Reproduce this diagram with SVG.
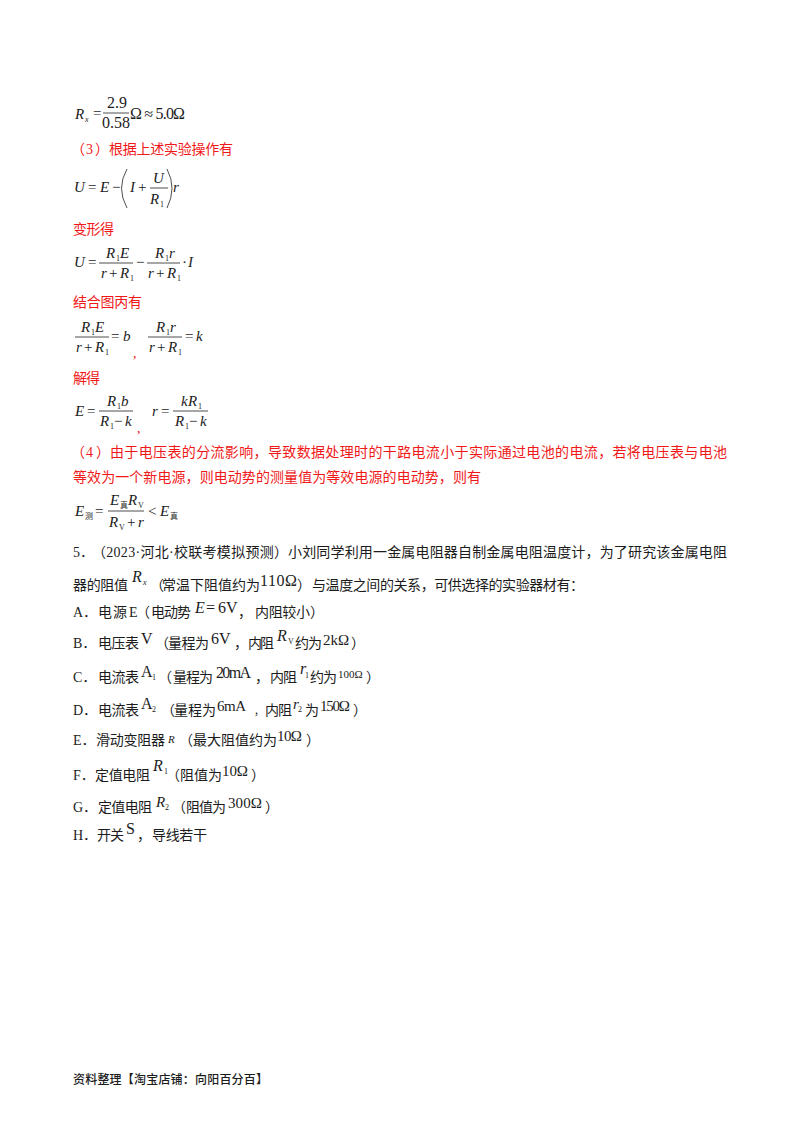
<svg xmlns="http://www.w3.org/2000/svg" width="800" height="1132" viewBox="0 0 800 1132">
<style>
text{font-family:"Liberation Serif","Noto Sans CJK SC",serif;font-size:14px;fill:#1c1c1c}
.r{fill:#f01818}
.i{font-style:italic}
.s{font-size:8px}
.z{font-size:15px}
.y{font-size:15px}
.l{font-size:16px}
.bar{stroke:#222;stroke-width:.8;fill:none}
</style>
<rect width="800" height="1132" fill="#fff"/>
<g id="formula-rx">
<text x="75" y="119" class="i z">R</text><text x="85" y="122" class="i s">x</text><text x="93" y="118" class="z">=</text>
<text x="107" y="108" class="l">2.9</text><path class="bar" d="M103 113H129"/><text x="102" y="128" class="l">0.58</text>
<text x="130" y="119" class="l" textLength="55">Ω ≈ 5.0Ω</text>
</g>
<g id="step3"><text x="71" y="154" class="r">（</text><text x="86" y="154" class="r">3</text><text x="95" y="154" class="r">）</text><text x="109" y="154" class="r" textLength="124">根据上述实验操作有</text></g>
<g id="formula-u1">
<text x="74" y="192" class="i z">U</text><text x="88" y="192" class="z">=</text><text x="100" y="192" class="i z">E</text><text x="112" y="192" class="z">−</text>
<path class="bar" d="M127 169Q116 188 127 208M167 169Q177 188 167 208"/>
<text x="130" y="192" class="i z">I</text><text x="138" y="192" class="z">+</text>
<text x="153" y="183" class="i z">U</text><path class="bar" d="M150 188H168"/><text x="150" y="204" class="i z">R</text><text x="160" y="207" class="s">1</text>
<text x="173" y="192" class="i z">r</text>
</g>
<g id="deform"><text x="73" y="234" class="r" textLength="41">变形得</text></g>
<g id="formula-u2">
<text x="74" y="267" class="i z">U</text><text x="88" y="267" class="z">=</text>
<text x="106" y="258" class="i z">R</text><text x="116" y="261" class="s">1</text><text x="120" y="258" class="i z">E</text><path class="bar" d="M99 263H133"/>
<text x="101" y="278" class="i z">r</text><text x="109" y="278" class="z">+</text><text x="120" y="278" class="i z">R</text><text x="130" y="281" class="s">1</text>
<text x="136" y="267" class="z">−</text>
<text x="155" y="258" class="i z">R</text><text x="165" y="261" class="s">1</text><text x="169" y="258" class="i z">r</text><path class="bar" d="M147 263H180"/>
<text x="148" y="278" class="i z">r</text><text x="156" y="278" class="z">+</text><text x="167" y="278" class="i z">R</text><text x="177" y="281" class="s">1</text>
<text x="182" y="267" class="z">·</text><text x="188" y="267" class="i z">I</text>
</g>
<g id="combine"><text x="73" y="307" class="r" textLength="69">结合图丙有</text></g>
<g id="formula-b-k">
<text x="81" y="332" class="i z">R</text><text x="91" y="335" class="s">1</text><text x="95" y="332" class="i z">E</text><path class="bar" d="M75 337H109"/>
<text x="76" y="352" class="i z">r</text><text x="84" y="352" class="z">+</text><text x="95" y="352" class="i z">R</text><text x="105" y="355" class="s">1</text>
<text x="111" y="341" class="z">=</text><text x="123" y="341" class="i z">b</text>
<text x="133" y="358" class="r">,</text>
<text x="156" y="332" class="i z">R</text><text x="166" y="335" class="s">1</text><text x="170" y="332" class="i z">r</text><path class="bar" d="M148 337H182"/>
<text x="149" y="352" class="i z">r</text><text x="157" y="352" class="z">+</text><text x="168" y="352" class="i z">R</text><text x="178" y="355" class="s">1</text>
<text x="185" y="341" class="z">=</text><text x="196" y="341" class="i z">k</text>
</g>
<g id="solve"><text x="73" y="383" class="r" textLength="27">解得</text></g>
<g id="formula-e-r">
<text x="75" y="416" class="i z">E</text><text x="87" y="416" class="z">=</text>
<text x="107" y="406" class="i z">R</text><text x="117" y="409" class="s">1</text><text x="121" y="406" class="i z">b</text><path class="bar" d="M99 411H133"/>
<text x="100" y="426" class="i z">R</text><text x="110" y="429" class="s">1</text><text x="114" y="426" class="z">−</text><text x="125" y="426" class="i z">k</text>
<text x="137" y="433" class="r">,</text>
<text x="152" y="416" class="i z">r</text><text x="161" y="416" class="z">=</text>
<text x="181" y="406" class="i z">k</text><text x="188" y="406" class="i z">R</text><text x="198" y="409" class="s">1</text><path class="bar" d="M173 411H208"/>
<text x="175" y="426" class="i z">R</text><text x="185" y="429" class="s">1</text><text x="189" y="426" class="z">−</text><text x="200" y="426" class="i z">k</text>
</g>
<g id="step4">
<text x="71" y="457" class="r">（</text><text x="86" y="457" class="r">4</text><text x="96" y="457" class="r">）</text><text x="110" y="457" class="r" textLength="617">由于电压表的分流影响，导致数据处理时的干路电流小于实际通过电池的电流，若将电压表与电池</text>
<text x="73" y="482" class="r" textLength="408">等效为一个新电源，则电动势的测量值为等效电源的电动势，则有</text>
</g>
<g id="formula-e-measured">
<text x="75" y="516" class="i z">E</text><text x="85" y="519" class="s">测</text><text x="95" y="516" class="z">=</text>
<text x="110" y="505" class="i z">E</text><text x="120" y="508" class="s">真</text><text x="128" y="505" class="i z">R</text><text x="138" y="508" class="s">V</text><path class="bar" d="M108 511H144"/>
<text x="109" y="527" class="i z">R</text><text x="119" y="530" class="s">V</text><text x="127" y="527" class="z">+</text><text x="138" y="527" class="i z">r</text>
<text x="148" y="516" class="z">&lt;</text><text x="160" y="516" class="i z">E</text><text x="170" y="519" class="s">真</text>
</g>
<g id="question-5">
<text x="73" y="557">5．</text><text x="92" y="557" textLength="196">（2023·河北·校联考模拟预测）</text><text x="288" y="557" textLength="439">小刘同学利用一金属电阻器自制金属电阻温度计，为了研究该金属电阻</text>
<text x="73" y="590" textLength="55">器的阻值</text><text x="132" y="582" class="i l">R</text><text x="143" y="585" class="i s">x</text>
<text x="150" y="590">（</text><text x="162" y="590">常温下阻值约为</text><text x="260" y="586" class="l" textLength="37">110Ω</text>
<text x="297" y="590">）</text><text x="312" y="590" textLength="272">与温度之间的关系，可供选择的实验器材有：</text>
</g>
<g id="option-a">
<text x="73" y="617">A．</text><text x="98" y="617" textLength="29">电源</text><text x="129" y="617">E</text><text x="136" y="617">（</text><text x="151" y="617" textLength="40">电动势</text>
<text x="195" y="613" class="i l">E</text><text x="206" y="613" class="l">=</text><text x="218" y="613" class="l">6V</text><text x="238" y="617">，</text><text x="255" y="617" textLength="55">内阻较小</text><text x="310" y="617">）</text>
</g>
<g id="option-b">
<text x="73" y="648">B．</text><text x="98" y="648" textLength="41">电压表</text><text x="141" y="644" class="l">V</text><text x="155" y="648">（</text><text x="168" y="648" textLength="41">量程为</text><text x="211" y="644" class="l">6V</text>
<text x="234" y="648">，</text><text x="248" y="648" textLength="26">内阻</text><text x="277" y="641" class="i l">R</text><text x="288" y="644" class="s">V</text><text x="295" y="648" textLength="27">约为</text>
<text x="323" y="645" class="y">2kΩ</text><text x="351" y="648">）</text>
</g>
<g id="option-c">
<text x="73" y="682">C．</text><text x="98" y="682" textLength="41">电流表</text><text x="141" y="677" class="l">A</text><text x="152" y="680" class="s">1</text><text x="158" y="682">（</text><text x="173" y="682" textLength="40">量程为</text>
<text x="216" y="678" class="l" textLength="35">20mA</text><text x="255" y="682">，</text><text x="270" y="682" textLength="27">内阻</text><text x="300" y="674" class="i l">r</text><text x="305" y="678" class="s">1</text>
<text x="310" y="682" textLength="27">约为</text><text x="338" y="678" style="font-size:11px">100Ω</text><text x="366" y="682">）</text>
</g>
<g id="option-d">
<text x="73" y="715">D．</text><text x="98" y="715" textLength="41">电流表</text><text x="141" y="709" class="l">A</text><text x="152" y="712" class="s">2</text><text x="161" y="715">（</text><text x="174" y="715" textLength="42">量程为</text>
<text x="217" y="711" class="y" textLength="29">6mA</text><text x="254" y="715" style="font-size:10px">，</text><text x="265" y="715" textLength="27">内阻</text><text x="293" y="709" class="i y">r</text><text x="298" y="712" class="s">2</text>
<text x="305" y="715">为</text><text x="320" y="711" class="y" textLength="30">150Ω</text><text x="353" y="715">）</text>
</g>
<g id="option-e">
<text x="73" y="745">E．</text><text x="96" y="745" textLength="69">滑动变阻器</text><text x="168" y="743" class="i" style="font-size:11px">R</text>
<text x="179" y="745">（</text><text x="193" y="745">最大阻值约为</text><text x="277" y="741" class="y" textLength="25">10Ω</text><text x="306" y="745">）</text>
</g>
<g id="option-f">
<text x="73" y="780">F．</text><text x="95" y="780" textLength="55">定值电阻</text><text x="153" y="771" class="i l">R</text><text x="164" y="774" class="s">1</text>
<text x="166" y="780">（</text><text x="180" y="780">阻值为</text><text x="222" y="776" class="y" textLength="26">10Ω</text><text x="251" y="780">）</text>
</g>
<g id="option-g">
<text x="73" y="812">G．</text><text x="98" y="812" textLength="54">定值电阻</text><text x="156" y="807" class="i y">R</text><text x="165" y="810" class="s">2</text>
<text x="172" y="812">（</text><text x="186" y="812" textLength="40">阻值为</text><text x="228" y="808" class="y" textLength="34">300Ω</text><text x="265" y="812">）</text>
</g>
<g id="option-h">
<text x="73" y="840">H．</text><text x="97" y="840" textLength="27">开关</text><text x="126" y="834" class="l">S</text><text x="137" y="840">，</text><text x="152" y="840" textLength="55">导线若干</text>
</g>
<g id="footer"><text x="73" y="1084" textLength="195" style="font-size:12px;font-weight:500">资料整理【淘宝店铺：向阳百分百】</text></g>
</svg>
